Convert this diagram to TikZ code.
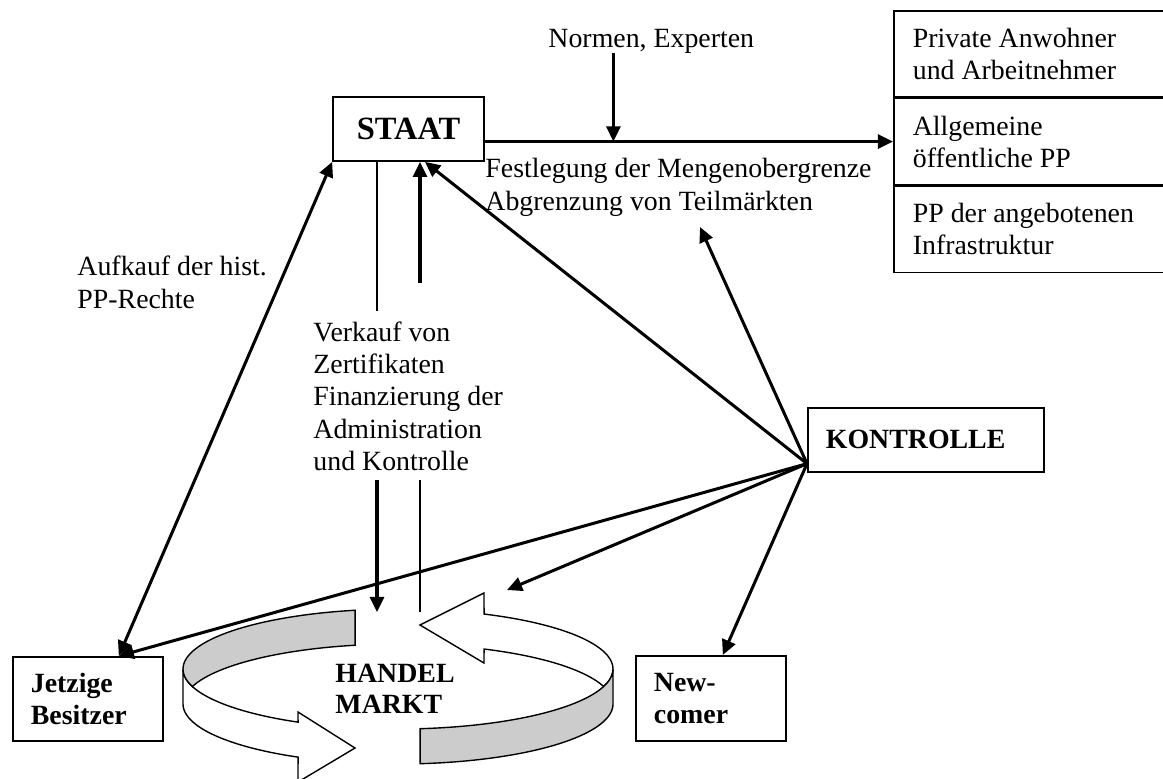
\documentclass[tikz,border=0pt]{standalone}
\usepackage{fontspec}
\setmainfont{Liberation Serif}
\usetikzlibrary{arrows.meta,calc,positioning}
\tikzset{>={Triangle[length=6.5pt,width=6pt]}}
\tikzstyle{kasten}=[draw,line width=0.7pt,anchor=north west,align=flush left,inner xsep=7.8pt,inner ysep=0pt,
                    font=\fontsize{12}{13.8}\selectfont\bfseries]
\tikzstyle{zelle}=[draw,line width=0.7pt,anchor=north west,align=flush left,text width=112pt,inner xsep=8.2pt,
                   inner ysep=0pt,minimum height=37.1pt,font=\fontsize{12}{13.8}\selectfont]
\tikzstyle{beschr}=[anchor=base west,align=left,inner sep=0pt,font=\fontsize{12}{13.8}\selectfont]
\tikzstyle{fluss}=[->,line width=1.3pt]
\tikzstyle{duenn}=[line width=0.6pt]
\tikzstyle{band}=[draw,line width=0.6pt]

\begin{document}
\begin{tikzpicture}[x=0.431pt,y=-0.431pt]
  \useasboundingbox (0,0) rectangle (1163,778);
  \clip (0,0) rectangle (1163,778);

  % Kaesten
  \node[kasten,anchor=center,align=center,minimum width=65.1pt,minimum height=27.6pt,
        font=\fontsize{14}{16}\selectfont\bfseries] (staat) at (408.5,129) {STAAT};
  \node[kasten,text width=86.1pt,minimum height=27.6pt] (kontrolle) at (807,407) {KONTROLLE};
  \node[kasten,text width=49.05pt,minimum height=36.2pt] (jetzige) at (12,656) {Jetzige\\Besitzer};
  \node[kasten,text width=49.05pt,minimum height=36.6pt] (newcomer) at (635,655) {New-\\comer};

  \node[zelle] (priv) at (893,10) {Private Anwohner\\und Arbeitnehmer};
  \node[zelle,below=0pt of priv] (allg) {Allgemeine\\öffentliche PP};
  \node[zelle,below=0pt of allg] (infra) {PP der angebotenen\\Infrastruktur};

  % Beschriftungen (Anker: Grundlinie der letzten Zeile)
  \node[beschr] (normen) at (548,47) {Normen, Experten};
  \node[beschr] (festl) at (485,210) {Festlegung der Mengenobergrenze\\Abgrenzung von Teilmärkten};
  \node[beschr] (aufkauf) at (77,308) {Aufkauf der hist.\\PP-Rechte};
  \node[beschr] (verkauf) at (313,470) {Verkauf von\\Zertifikaten\\Finanzierung der\\Administration\\und Kontrolle};

  % Kreislauf (zwei Baender)
  \filldraw[band,fill=white] plot[domain=180:117.7,samples=30] ({398+215*cos(\x)},{669+60*sin(\x)})
    -- (298,712) -- (355,748) -- (298,782)
    -- plot[domain=117.7:180,samples=30] ({398+215*cos(\x)},{704+60*sin(\x)}) -- cycle;
  \filldraw[band,fill=black!20] plot[domain=258.5:163,samples=40] ({398+215*cos(\x)},{669+60*sin(\x)})
    -- plot[domain=197:258.5,samples=30] ({398+215*cos(\x)},{704+60*sin(\x)}) -- cycle;
  \filldraw[band,fill=white] plot[domain=293.6:377,samples=40] ({398+215*cos(\x)},{669+60*sin(\x)})
    -- plot[domain=343:293.6,samples=30] ({398+215*cos(\x)},{704+60*sin(\x)})
    -- (484,663) -- (420,625) -- (484,593) -- cycle;
  \filldraw[band,fill=black!20] plot[domain=84.1:0,samples=40] ({398+215*cos(\x)},{669+60*sin(\x)})
    -- plot[domain=0:84.1,samples=40] ({398+215*cos(\x)},{704+60*sin(\x)}) -- cycle;
  \node[beschr,font=\fontsize{12}{13}\selectfont\bfseries] (markt) at (335,713) {HANDEL\\MARKT};

  % Pfeile
  \draw[fluss] (staat.east |- allg.west) -- node[coordinate,pos=0.315] (norm) {} (allg.west);
  \draw[fluss] (normen.south -| norm) -- (norm);
  \draw[duenn] ($(staat.south)+(-31.5,0)$) -- ++(0,149);
  \draw[fluss] ($(staat.south)+(11.5,121)$) -- ($(staat.south)+(11.5,0)$);
  \coordinate (einA) at (377,612);
  \coordinate (ausB) at (420,612);
  \draw[fluss] ($(einA)+(0,-132)$) -- (einA);
  \draw[duenn] ($(ausB)+(0,-132)$) -- (ausB);
  \draw[fluss,<->] ($(jetzige.north)+(31,0)$) -- (staat.south west);

  \coordinate (kfan) at ($(kontrolle.south west)+(0,-9)$);
  \coordinate (zStaat) at ($(staat.south)+(16.5,0)$);
  \coordinate (teilm) at (700,227);
  \coordinate (zJetzt) at ($(jetzige.north)+(31,0)$);
  \coordinate (ringtop) at (507,590);
  \coordinate (zNew) at ($(newcomer.north)+(12,0)$);
  \foreach \ziel in {zStaat,teilm,zJetzt,ringtop,zNew}
    \draw[fluss] (kfan) -- (\ziel);

\end{tikzpicture}
\end{document}
